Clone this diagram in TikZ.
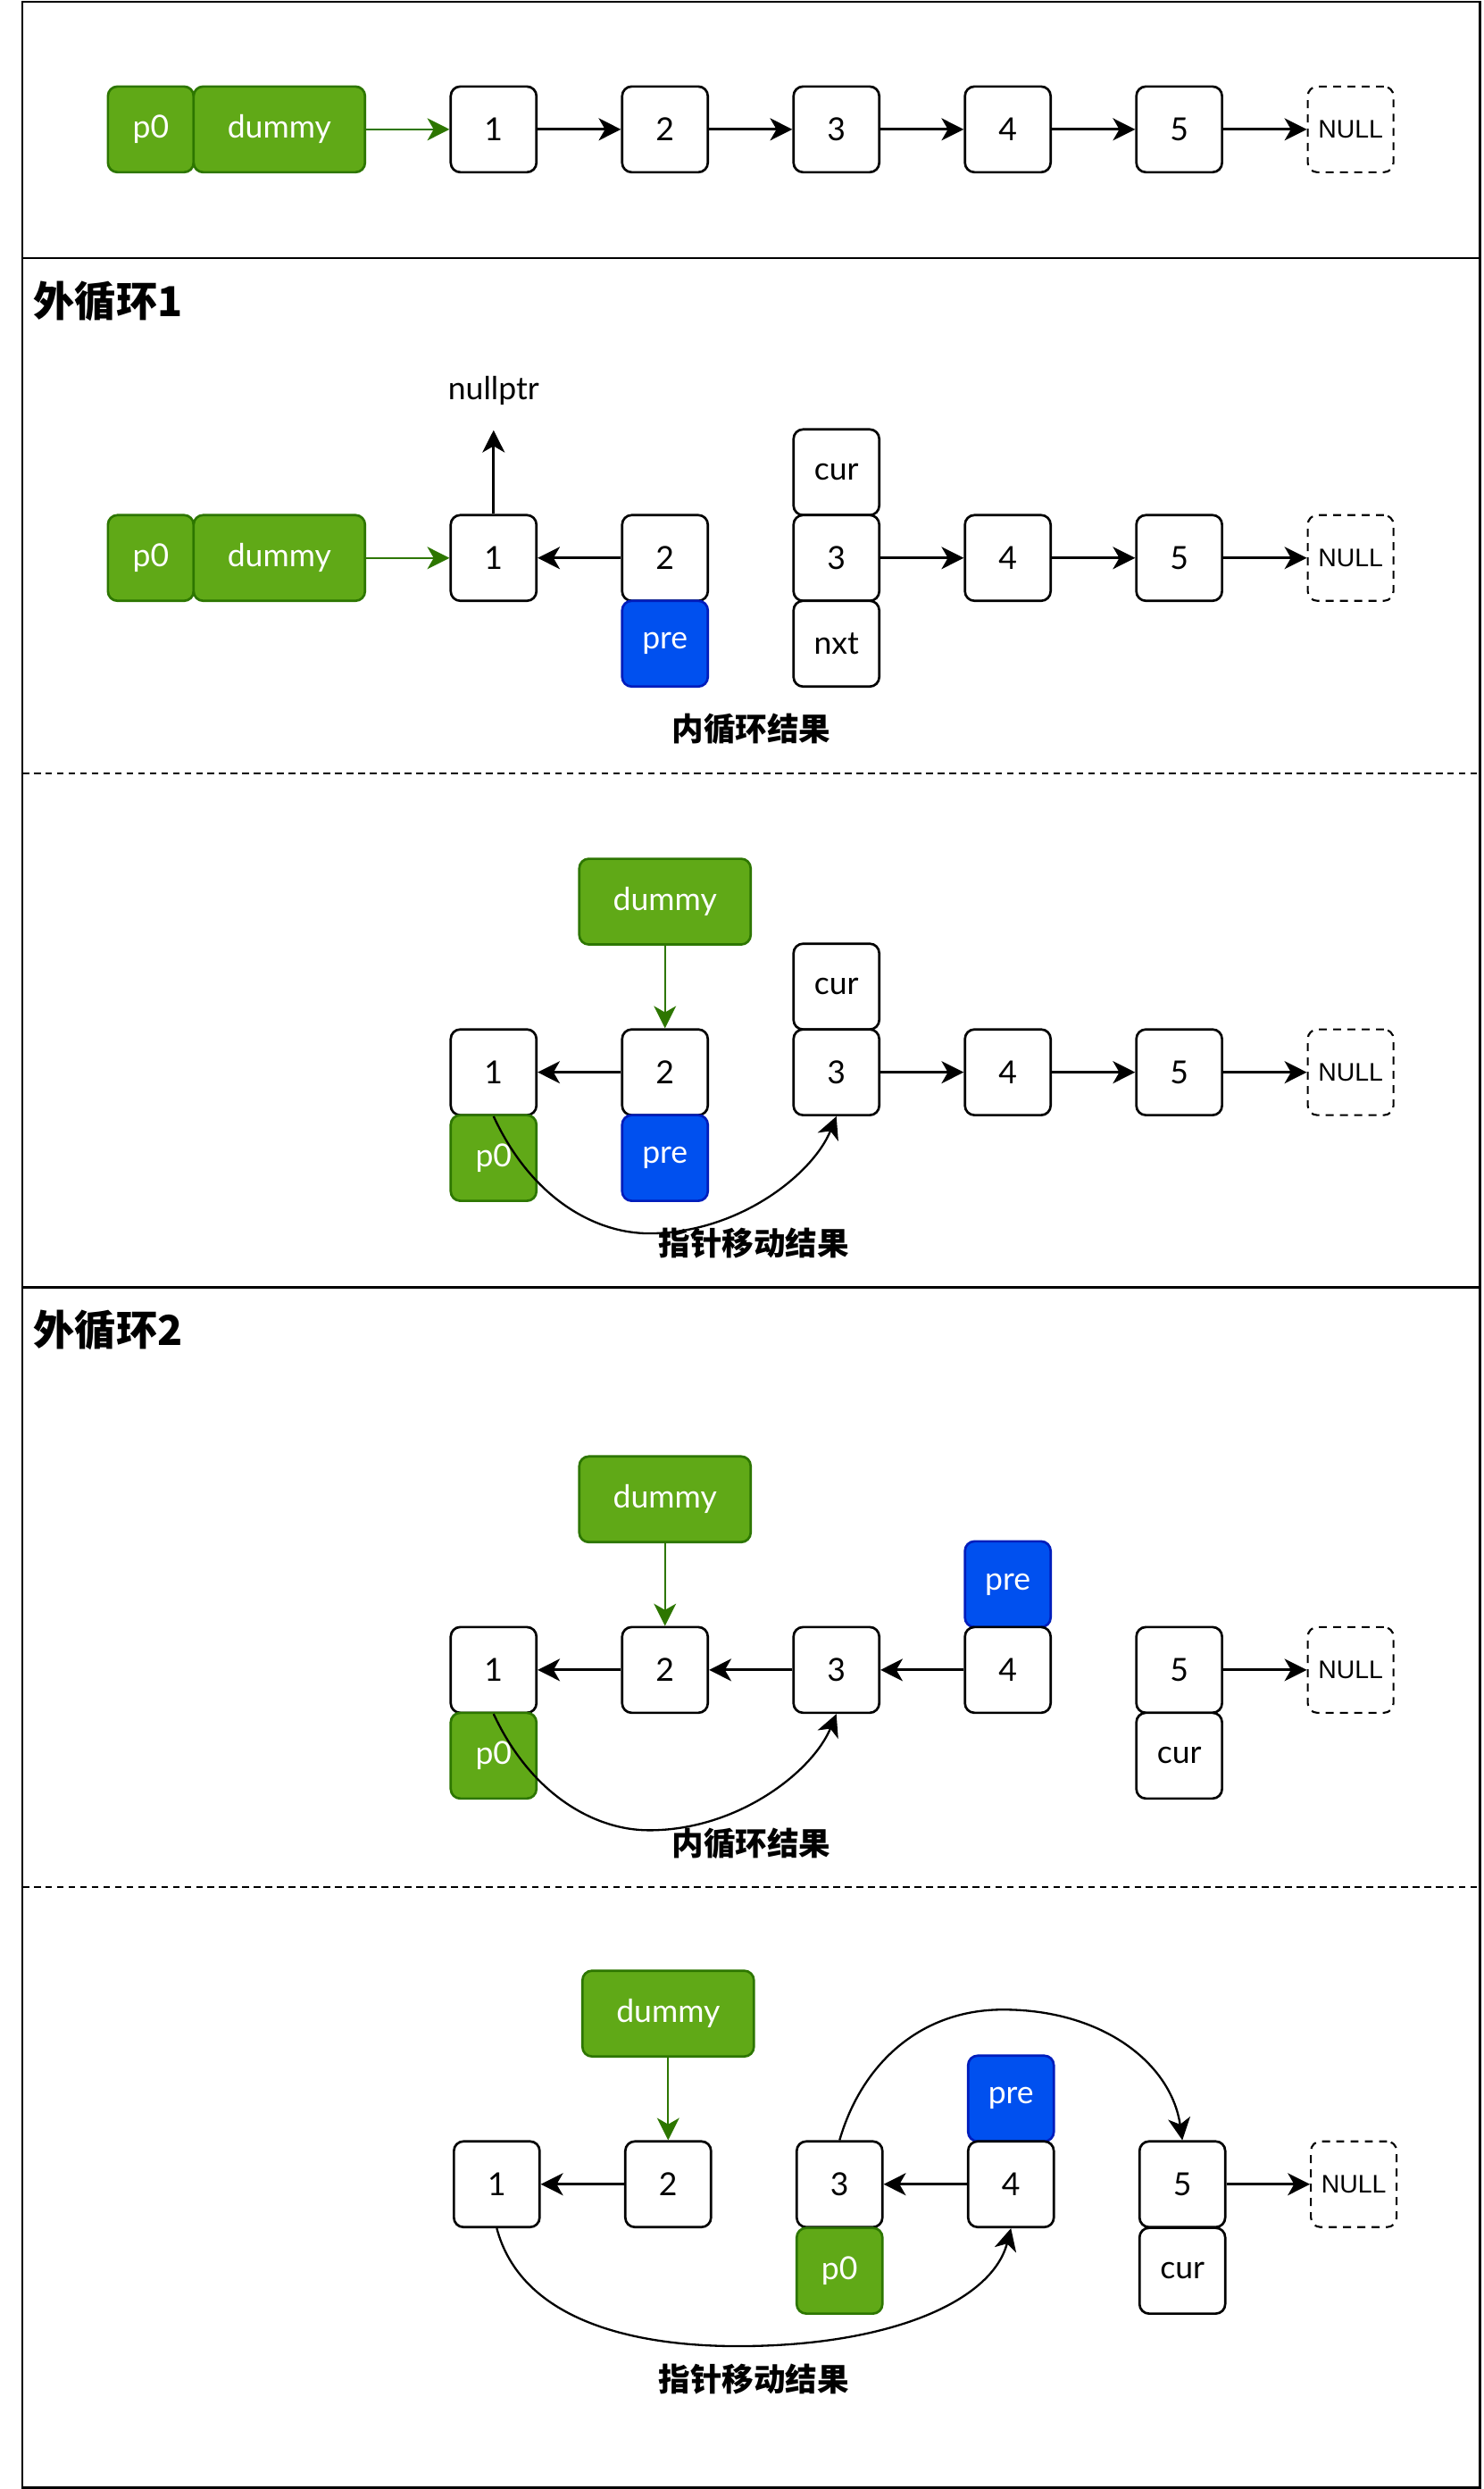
\documentclass[tikz,border=0pt]{standalone}
\usepackage{fontspec}
\setmainfont{Lato}
\newfontfamily\cjk{Noto Sans CJK SC}
\newfontfamily\nullf{Liberation Sans}
\usetikzlibrary{arrows.meta}
\definecolor{gfill}{HTML}{60A917}
\definecolor{gline}{HTML}{2D7600}
\definecolor{bfill}{HTML}{0050EF}
\definecolor{bline}{HTML}{001DBC}
\begin{document}
\begin{tikzpicture}[x=1pt,y=-1pt,
  box/.style={draw=black, line width=1.5pt, rounded corners=6pt, fill=white, minimum width=54pt, minimum height=54pt, inner sep=0pt, font=\fontsize{20}{20}\selectfont},
  gbox/.style={box, fill=gfill, draw=gline, text=white},
  bbox/.style={box, fill=bfill, draw=bline, text=white},
  dbox/.style={gbox, minimum width=108pt},
  nbox/.style={box, dash pattern=on 5pt off 4pt, line width=1.2pt, font=\nullf\fontsize{16}{16}\selectfont},
  arr/.style={-{Stealth[length=14pt,width=14pt,inset=4pt]}, line width=1.6pt},
  garr/.style={arr, line width=1.1pt, color=gline},
  carr/.style={arr, line width=1.3pt},
  ttl/.style={font=\cjk\bfseries\fontsize{26}{26}\selectfont, anchor=west, inner sep=0pt},
  capt/.style={font=\cjk\bfseries\fontsize{20}{20}\selectfont, inner sep=0pt},
  plain/.style={font=\fontsize{20}{20}\selectfont, inner sep=0pt},
  frame/.style={line width=1.4pt},
  divl/.style={line width=1.1pt, dash pattern=on 4.3pt off 3pt},
]
\useasboundingbox (0,0) rectangle (935,1568);
% frame
\draw[frame] (14,1) rectangle (932.5,1567);
\draw[frame] (14,162.5) -- (932.5,162.5);
\draw[frame] (14,811) -- (932.5,811);
\draw[divl] (14,487) -- (932.5,487);
\draw[divl] (14,1189) -- (932.5,1189);

% ---------- top ----------
\node[gbox] (tp0) at (95,81.5) {p0};
\node[dbox] (tdm) at (176,81.5) {dummy};
\node[box] (t1) at (311,81.5) {1};
\node[box] (t2) at (419,81.5) {2};
\node[box] (t3) at (527,81.5) {3};
\node[box] (t4) at (635,81.5) {4};
\node[box] (t5) at (743,81.5) {5};
\node[nbox] (tn) at (851,81.5) {NULL};
\draw[garr] (tdm) -- (t1);
\draw[arr] (t1) -- (t2);
\draw[arr] (t2) -- (t3);
\draw[arr] (t3) -- (t4);
\draw[arr] (t4) -- (t5);
\draw[arr] (t5) -- (tn);

% ---------- outer loop 1 ----------
\node[ttl] (ta) at (21,190) {外循环1};
\node[gbox] (ap0) at (95,351.5) {p0};
\node[dbox] (adm) at (176,351.5) {dummy};
\node[box] (a1) at (311,351.5) {1};
\node[box] (a2) at (419,351.5) {2};
\node[bbox] (apre) at (419,405.5) {pre};
\node[box] (acur) at (527,297.5) {cur};
\node[box] (a3) at (527,351.5) {3};
\node[box] (anxt) at (527,405.5) {nxt};
\node[box] (a4) at (635,351.5) {4};
\node[box] (a5) at (743,351.5) {5};
\node[nbox] (an) at (851,351.5) {NULL};
\node[plain] (np) at (311,246) {nullptr};
\coordinate (nptip) at (311,271);
\draw[garr] (adm) -- (a1);
\draw[arr] (a2) -- (a1);
\draw[arr] (a1.north) -- (nptip);
\draw[arr] (a3) -- (a4);
\draw[arr] (a4) -- (a5);
\draw[arr] (a5) -- (an);
\node[capt] (ca) at (473.5,459) {内循环结果};

% ---------- pointer move 1 ----------
\node[dbox] (bdm) at (419,568) {dummy};
\node[box] (b1) at (311,675.5) {1};
\node[gbox] (bp0) at (311,729.5) {p0};
\node[box] (b2) at (419,675.5) {2};
\node[bbox] (bpre) at (419,729.5) {pre};
\node[box] (bcur) at (527,621.5) {cur};
\node[box] (b3) at (527,675.5) {3};
\node[box] (b4) at (635,675.5) {4};
\node[box] (b5) at (743,675.5) {5};
\node[nbox] (bn) at (851,675.5) {NULL};
\draw[garr] (bdm) -- (b2);
\draw[arr] (b2) -- (b1);
\draw[arr] (b3) -- (b4);
\draw[arr] (b4) -- (b5);
\draw[arr] (b5) -- (bn);
\draw[carr] (b1.south) .. controls (335,755) and (375,777) .. (409,777) .. controls (465,777) and (512,740) .. (b3.south);
\node[capt] (cb) at (475,783) {指针移动结果};

% ---------- outer loop 2 ----------
\node[ttl] (tc) at (21,838) {外循环2};
\node[dbox] (cdm) at (419,944.5) {dummy};
\node[box] (c1) at (311,1052) {1};
\node[gbox] (cp0) at (311,1106) {p0};
\node[box] (c2) at (419,1052) {2};
\node[box] (c3) at (527,1052) {3};
\node[bbox] (cpre) at (635,998) {pre};
\node[box] (c4) at (635,1052) {4};
\node[box] (c5) at (743,1052) {5};
\node[box] (ccur) at (743,1106) {cur};
\node[nbox] (cn) at (851,1052) {NULL};
\draw[garr] (cdm) -- (c2);
\draw[arr] (c2) -- (c1);
\draw[arr] (c3) -- (c2);
\draw[arr] (c4) -- (c3);
\draw[arr] (c5) -- (cn);
\draw[carr] (c1.south) .. controls (335,1131) and (375,1153) .. (409,1153) .. controls (465,1153) and (512,1116) .. (c3.south);
\node[capt] (cc) at (473.5,1161.5) {内循环结果};

% ---------- pointer move 2 ----------
\node[dbox] (ddm) at (421,1268.5) {dummy};
\node[box] (d1) at (313,1376) {1};
\node[box] (d2) at (421,1376) {2};
\node[box] (d3) at (529,1376) {3};
\node[gbox] (dp0) at (529,1430.5) {p0};
\node[bbox] (dpre) at (637,1322) {pre};
\node[box] (d4) at (637,1376) {4};
\node[box] (d5) at (745,1376) {5};
\node[box] (dcur) at (745,1430.5) {cur};
\node[nbox] (dn) at (853,1376) {NULL};
\draw[garr] (ddm) -- (d2);
\draw[arr] (d2) -- (d1);
\draw[arr] (d4) -- (d3);
\draw[arr] (d5) -- (dn);
\draw[carr] (d3.north) .. controls (543,1300) and (580,1266) .. (632,1266) .. controls (695,1266) and (738,1300) .. (d5.north);
\draw[carr] (d1.south) .. controls (328,1460) and (395,1478) .. (465,1478) .. controls (560,1478) and (625,1450) .. (d4.south);
\node[capt] (cd) at (475,1499) {指针移动结果};
\end{tikzpicture}
\end{document}
